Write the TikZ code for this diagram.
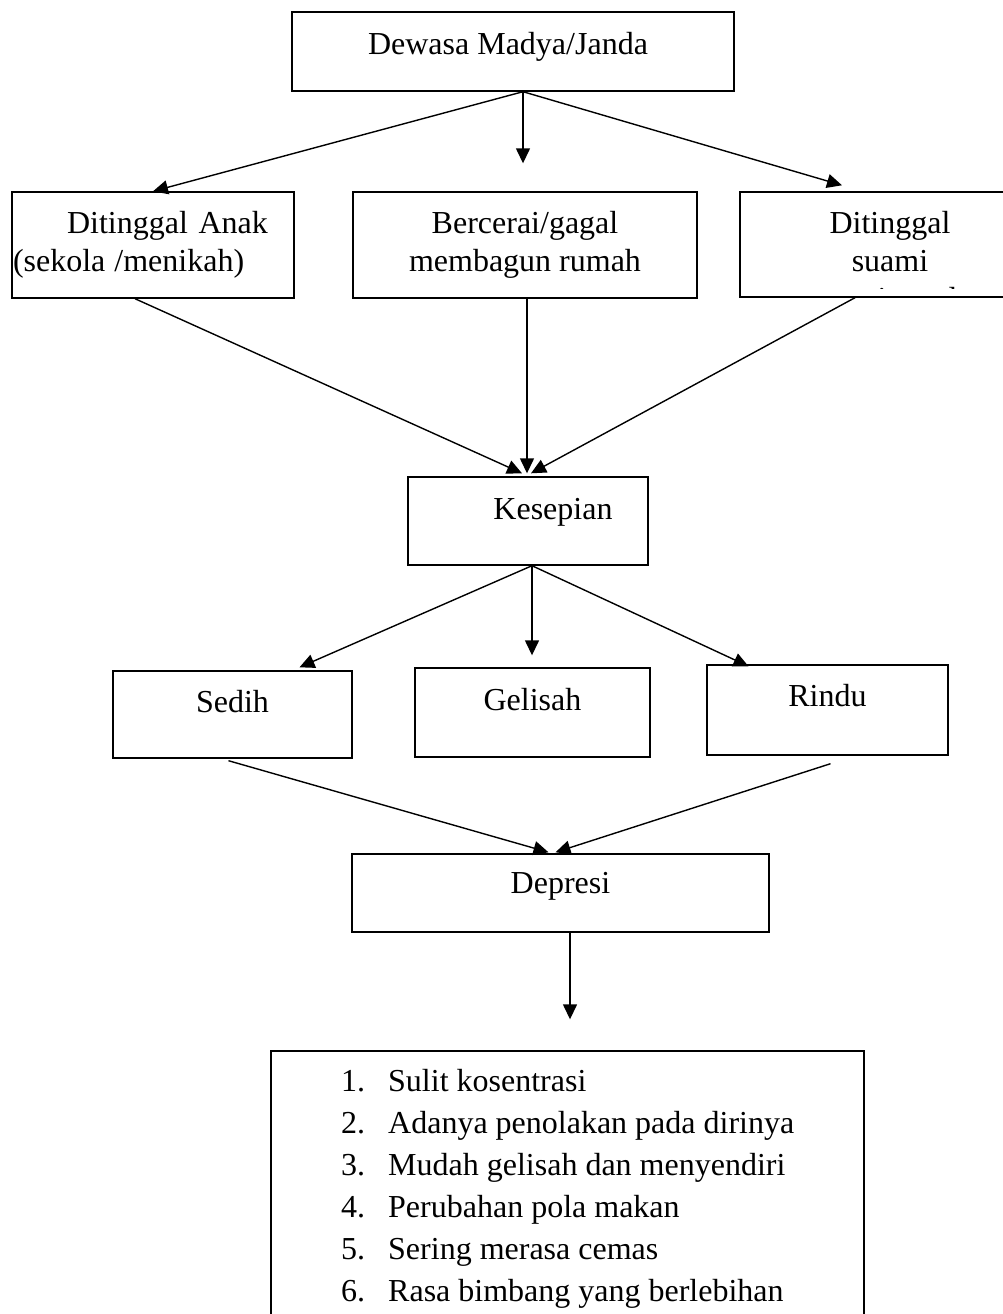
\documentclass[tikz,border=0pt]{standalone}
\usepackage{fontspec}
\setmainfont{Liberation Serif}
\usetikzlibrary{positioning, arrows.meta, calc}

\begin{document}
\begin{tikzpicture}[x=1pt, y=-1pt,
    kotak/.style={draw, line width=1.4pt, inner sep=0pt,
        font=\fontsize{32}{38}\selectfont},
    satu/.style={text height=22pt},
    teks/.style={inner sep=0pt, anchor=base west, font=\fontsize{32}{38}\selectfont},
    panah/.style={-{Triangle[length=15pt, width=14pt]}, line width=1.4pt}]

% Batas gambar
\clip (0,0) rectangle (1003,1314);
\fill[white] (0,0) rectangle (1003,1314);

% Tingkat 1
\node[kotak, satu, minimum width=442pt, minimum height=79pt, text depth=15pt] (dewasa) at (513,51.5) {\hspace*{-10pt}Dewasa Madya/Janda};

% Tingkat 2
\node[kotak, minimum width=282pt, minimum height=106pt, text width=280pt, align=left] (anak) at (153,245)
    {\hspace*{54pt}Ditinggal Anak\\(sekola\hspace{9pt}/menikah)};
\node[kotak, minimum width=344pt, minimum height=106pt, align=center] (cerai) at (525,245) {Bercerai/gagal\\membagun rumah};
\node[kotak, minimum width=300pt, minimum height=105pt] (suami) at (890,244.5) {};
\node[teks, anchor=base] (suamiA) at (890,233) {Ditinggal};
\node[teks, anchor=base] (suamiB) at (890,271) {suami};
\begin{scope}
    \clip (742,194) rectangle (1003,288);
    \node[teks, anchor=base] (suamiC) at (890,309) {meninggal};
\end{scope}

% Tingkat 3
\node[kotak, satu, minimum width=240pt, minimum height=88pt, text depth=26pt] (sepi) at (528,521) {\hspace*{50pt}Kesepian};

% Tingkat 4
\node[kotak, satu, minimum width=239pt, minimum height=87pt, text depth=27pt] (sedih) at (232.5,714.5) {Sedih};
\node[kotak, satu, minimum width=235pt, minimum height=89pt, text depth=26pt] (gelisah) at (532.5,712.5) {Gelisah};
\node[kotak, satu, minimum width=241pt, minimum height=90pt, text depth=30pt] (rindu) at (827.5,710) {Rindu};

% Tingkat 5
\node[kotak, satu, minimum width=417pt, minimum height=78pt, text depth=22pt] (depresi) at (560.5,893) {Depresi};

% Gejala
\node[kotak, minimum width=593pt, minimum height=300pt] (gejala) at (567.5,1201) {};
\foreach \i/\isi in {1/Sulit kosentrasi, 2/Adanya penolakan pada dirinya,
    3/Mudah gelisah dan menyendiri, 4/Perubahan pola makan,
    5/Sering merasa cemas, 6/Rasa bimbang yang berlebihan} {
    \pgfmathsetmacro{\ypos}{1091 + (\i-1)*42}
    \node[teks] (no\i) at (341,\ypos) {\i.};
    \node[teks] (isi\i) at (388,\ypos) {\isi};
}

% Panah dari tingkat 1
\coordinate (p1) at ([xshift=10pt]dewasa.south);
\draw[panah] (p1) -- (anak.north);
\draw[panah] (p1) -- ([xshift=-2pt, yshift=28pt]cerai.north);
\draw[panah] (p1) -- ([xshift=-48pt, yshift=6pt]suami.north);

% Panah ke kesepian
\draw[panah] ([xshift=-18pt]anak.south) -- ([xshift=-6pt, yshift=3pt]sepi.north);
\draw[panah] ([xshift=2pt]cerai.south) -- ([xshift=-1pt, yshift=3pt]sepi.north);
\draw[panah] ([xshift=-35pt]suami.south) -- ([xshift=3pt, yshift=3pt]sepi.north);

% Panah dari kesepian
\coordinate (p2) at ([xshift=4pt]sepi.south);
\draw[panah] (p2) -- ([xshift=67pt, yshift=3pt]sedih.north);
\draw[panah] (p2) -- ([xshift=-0.5pt, yshift=12pt]gelisah.north);
\draw[panah] (p2) -- ([xshift=-79pt, yshift=-2pt]rindu.north);

% Panah ke depresi
\draw[panah] ([xshift=-4pt, yshift=-2pt]sedih.south) -- ([xshift=-12pt, yshift=1pt]depresi.north);
\draw[panah] ([xshift=3pt, yshift=-8pt]rindu.south) -- ([xshift=-5pt, yshift=1pt]depresi.north);

% Panah ke gejala
\coordinate (p3) at ([xshift=9.5pt]depresi.south);
\draw[panah] (p3) -- ([xshift=2.5pt, yshift=31pt]gejala.north);

\end{tikzpicture}
\end{document}
